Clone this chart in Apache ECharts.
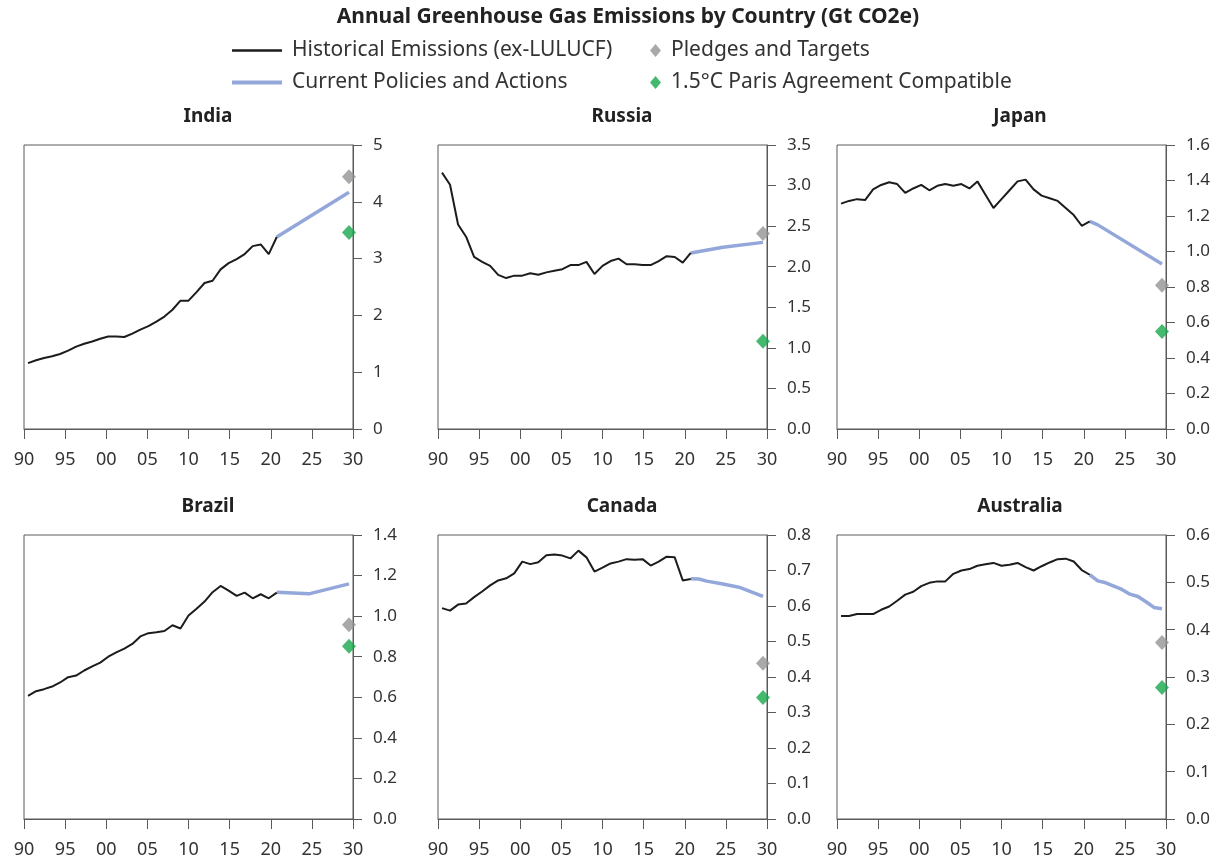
<!DOCTYPE html>
<html>
<head>
<meta charset="utf-8">
<title>Annual Greenhouse Gas Emissions by Country</title>
<script src="https://cdn.jsdelivr.net/npm/echarts@6/dist/echarts.min.js"></script>
<style>
  html, body { margin: 0; padding: 0; background: #fff; }
  #chart { width: 1225px; height: 865px; }
</style>
</head>
<body>
<div id="chart"></div>
<script>
// years of the historical record (ex-LULUCF), Gt CO2e
const histYears = [1990, 1991, 1992, 1993, 1994, 1995, 1996, 1997, 1998, 1999,
  2000, 2001, 2002, 2003, 2004, 2005, 2006, 2007, 2008, 2009,
  2010, 2011, 2012, 2013, 2014, 2015, 2016, 2017, 2018, 2019, 2020, 2021];

const indiaHist = [1.16, 1.21, 1.25, 1.28, 1.32, 1.38, 1.45, 1.50, 1.54, 1.59,
  1.63, 1.63, 1.62, 1.68, 1.75, 1.81, 1.89, 1.98, 2.10, 2.26,
  2.26, 2.41, 2.57, 2.61, 2.81, 2.92, 2.99, 3.08, 3.22, 3.25, 3.08, 3.38];
const russiaHist = [3.16, 3.01, 2.52, 2.37, 2.12, 2.06, 2.01, 1.90, 1.86, 1.89,
  1.89, 1.92, 1.90, 1.93, 1.95, 1.97, 2.02, 2.02, 2.06, 1.91,
  2.01, 2.07, 2.10, 2.03, 2.03, 2.02, 2.02, 2.07, 2.13, 2.12, 2.05, 2.17];
const japanHist = [1.27, 1.285, 1.295, 1.29, 1.35, 1.375, 1.39, 1.38, 1.33, 1.355,
  1.375, 1.345, 1.37, 1.38, 1.37, 1.38, 1.355, 1.395, 1.32, 1.245,
  1.295, 1.345, 1.395, 1.405, 1.35, 1.315, 1.30, 1.285, 1.245, 1.205, 1.145, 1.17];
const brazilHist = [0.607, 0.63, 0.64, 0.653, 0.673, 0.699, 0.707, 0.732, 0.752, 0.771,
  0.80, 0.821, 0.84, 0.863, 0.90, 0.916, 0.921, 0.927, 0.955, 0.939,
  1.003, 1.037, 1.072, 1.118, 1.149, 1.126, 1.10, 1.116, 1.088, 1.108, 1.088, 1.116];
const canadaHist = [0.594, 0.587, 0.604, 0.607, 0.625, 0.641, 0.658, 0.672, 0.678, 0.692,
  0.725, 0.718, 0.723, 0.743, 0.745, 0.742, 0.734, 0.756, 0.737, 0.697,
  0.708, 0.72, 0.725, 0.732, 0.73, 0.732, 0.714, 0.725, 0.739, 0.737, 0.672, 0.676];
const australiaHist = [0.429, 0.429, 0.433, 0.433, 0.433, 0.442, 0.449, 0.461, 0.474, 0.48,
  0.492, 0.499, 0.502, 0.502, 0.518, 0.525, 0.528, 0.535, 0.538, 0.541,
  0.535, 0.537, 0.541, 0.532, 0.525, 0.534, 0.542, 0.549, 0.55, 0.544, 0.526, 0.516];

// current policies and actions projections
const indiaPolicyYears = [2021, 2030];
const indiaPolicy = [3.38, 4.17];
const russiaPolicyYears = [2021, 2025, 2030];
const russiaPolicy = [2.17, 2.24, 2.30];
const japanPolicyYears = [2021, 2022, 2030];
const japanPolicy = [1.17, 1.15, 0.93];
const brazilPolicyYears = [2021, 2025, 2030];
const brazilPolicy = [1.118, 1.11, 1.159];
const canadaPolicyYears = [2021, 2022, 2023, 2025, 2027, 2030];
const canadaPolicy = [0.677, 0.676, 0.670, 0.662, 0.653, 0.627];
const australiaPolicyYears = [2021, 2022, 2023, 2024, 2025, 2026, 2027, 2028, 2029, 2030];
const australiaPolicy = [0.516, 0.503, 0.499, 0.492, 0.485, 0.475, 0.47, 0.459, 0.447, 0.444];

// 2030 targets
const targetYear = 2030;
const countries = ['India', 'Russia', 'Japan', 'Brazil', 'Canada', 'Australia'];
const pledges = [4.44, 2.41, 0.81, 0.958, 0.439, 0.373];
const parisCompatible = [3.46, 1.08, 0.55, 0.852, 0.342, 0.278];

// axis settings per panel
const yMax = [5, 3.5, 1.6, 1.4, 0.8, 0.6];
const yStep = [1, 0.5, 0.2, 0.2, 0.1, 0.1];
const yDecimals = [0, 1, 1, 1, 1, 1];

const histAll = [indiaHist, russiaHist, japanHist, brazilHist, canadaHist, australiaHist];
const policyYearsAll = [indiaPolicyYears, russiaPolicyYears, japanPolicyYears, brazilPolicyYears, canadaPolicyYears, australiaPolicyYears];
const policyAll = [indiaPolicy, russiaPolicy, japanPolicy, brazilPolicy, canadaPolicy, australiaPolicy];

const HIST = 'Historical Emissions (ex-LULUCF)';
const POLICY = 'Current Policies and Actions';
const PLEDGE = 'Pledges and Targets';
const PARIS = '1.5°C Paris Agreement Compatible';

const FONT = '"Noto Sans", "Open Sans", sans-serif';
const AXIS_COLOR = '#5a5a5a';
const TEXT_COLOR = '#333';

const colLefts = [24, 438, 837];
const rowTops = [145, 535];
const plotW = 329, plotH = 284;
const titleCenters = [208, 622, 1020];

const grids = [], xAxes = [], yAxes = [], series = [];
const titles = [{
  text: 'Annual Greenhouse Gas Emissions by Country (Gt CO2e)',
  left: 628, top: 7, textAlign: 'center', padding: 0,
  textStyle: { fontFamily: FONT, fontSize: 21, fontWeight: 'bold', color: '#222' }
}];

countries.forEach((name, i) => {
  const col = i % 3, row = Math.floor(i / 3);
  grids.push({
    left: colLefts[col], top: rowTops[row], width: plotW, height: plotH,
    outerBoundsMode: 'none',
    show: true, borderColor: AXIS_COLOR, borderWidth: 1, backgroundColor: 'transparent'
  });
  titles.push({
    text: name, left: titleCenters[col], top: rowTops[row] - 38, textAlign: 'center', padding: 0,
    textStyle: { fontFamily: FONT, fontSize: 19, fontWeight: 'bold', color: '#222' }
  });
  // visible year axis
  xAxes.push({
    type: 'value', gridIndex: i, min: 1990, max: 2030, interval: 5,
    axisLine: { show: true, lineStyle: { color: AXIS_COLOR, width: 1 } },
    axisTick: { show: true, length: 10, lineStyle: { color: AXIS_COLOR } },
    axisLabel: {
      fontFamily: FONT, fontSize: 18, color: TEXT_COLOR, margin: 22,
      formatter: v => String(v).slice(2)
    },
    splitLine: { show: false }
  });
  // data axis: each year sits in the middle of its slot
  xAxes.push({
    type: 'value', gridIndex: i, min: 1989.5, max: 2030.5, show: false
  });
  yAxes.push({
    type: 'value', gridIndex: i, position: 'right', min: 0, max: yMax[i], interval: yStep[i],
    axisLine: { show: true, lineStyle: { color: AXIS_COLOR, width: 1 } },
    axisTick: { show: true, length: 9, lineStyle: { color: AXIS_COLOR } },
    axisLabel: {
      fontFamily: FONT, fontSize: 17, color: TEXT_COLOR, margin: 20,
      formatter: v => v.toFixed(yDecimals[i])
    },
    splitLine: { show: false }
  });

  series.push({
    name: HIST, type: 'line', xAxisIndex: 2 * i + 1, yAxisIndex: i,
    data: histYears.map((y, k) => [y, histAll[i][k]]),
    showSymbol: false, symbol: 'none',
    lineStyle: { color: '#1c1c1c', width: 2 },
    itemStyle: { color: '#1c1c1c' }, z: 3
  });
  series.push({
    name: POLICY, type: 'line', xAxisIndex: 2 * i + 1, yAxisIndex: i,
    data: policyYearsAll[i].map((y, k) => [y, policyAll[i][k]]),
    showSymbol: false, symbol: 'none',
    lineStyle: { color: '#93a7da', width: 3.5 },
    itemStyle: { color: '#93a7da' }, z: 2
  });
  series.push({
    name: PLEDGE, type: 'scatter', xAxisIndex: 2 * i + 1, yAxisIndex: i,
    data: [[targetYear, pledges[i]]],
    symbol: 'diamond', symbolSize: [14, 15],
    itemStyle: { color: '#939393' }, z: 4
  });
  series.push({
    name: PARIS, type: 'scatter', xAxisIndex: 2 * i + 1, yAxisIndex: i,
    data: [[targetYear, parisCompatible[i]]],
    symbol: 'diamond', symbolSize: [14, 15],
    itemStyle: { color: '#17a84b' }, z: 4
  });
});

const legendText = { fontFamily: FONT, fontSize: 21, color: TEXT_COLOR, padding: [0, 0, 0, 5] };
const legends = [
  { data: [{ name: HIST, icon: 'rect' }], left: 232, top: 40, itemWidth: 50, itemHeight: 2.5 },
  { data: [{ name: POLICY, icon: 'rect' }], left: 232, top: 72, itemWidth: 50, itemHeight: 4 },
  { data: [{ name: PLEDGE, icon: 'diamond' }], left: 650, top: 40, itemWidth: 11, itemHeight: 13 },
  { data: [{ name: PARIS, icon: 'diamond' }], left: 650, top: 72, itemWidth: 11, itemHeight: 13 }
].map(l => Object.assign(l, { padding: 0, selectedMode: false, textStyle: legendText }));

const chart = echarts.init(document.getElementById('chart'), null, { renderer: 'canvas' });
chart.setOption({
  animation: false,
  backgroundColor: '#fff',
  title: titles,
  legend: legends,
  grid: grids,
  xAxis: xAxes,
  yAxis: yAxes,
  series: series
});
</script>
</body>
</html>
